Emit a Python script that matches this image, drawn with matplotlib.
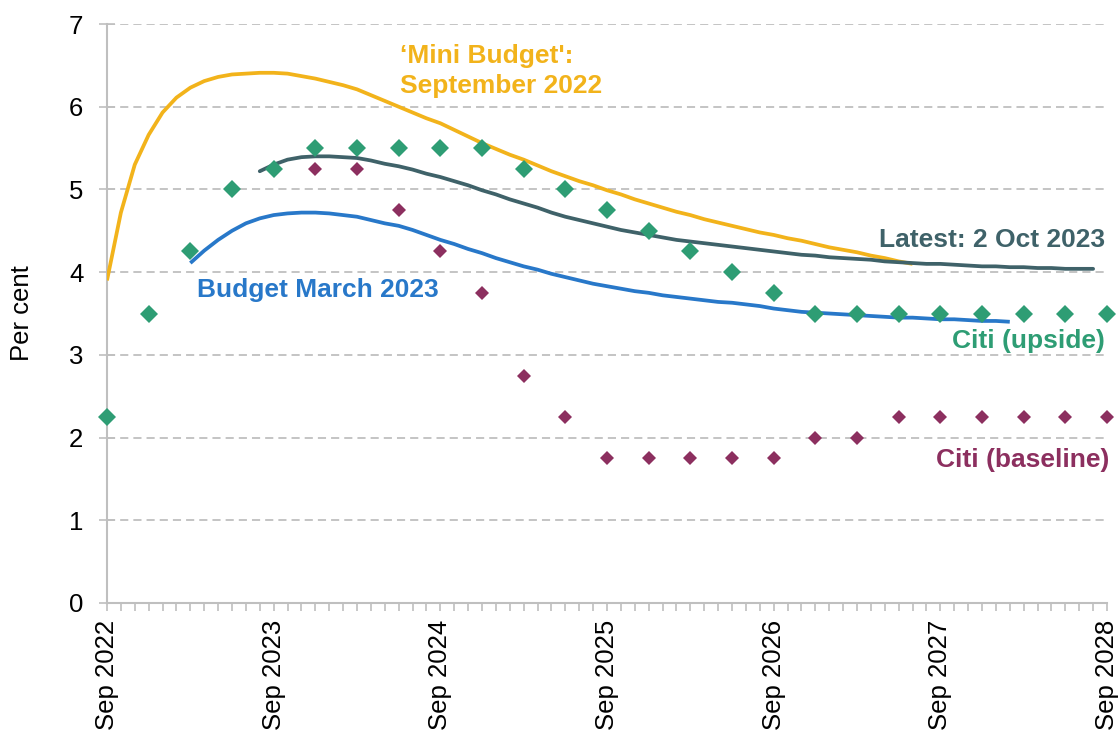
import matplotlib
matplotlib.use("Agg")
import matplotlib.pyplot as plt
from matplotlib.ticker import FixedLocator, MultipleLocator

plt.rcParams["font.family"] = ["Liberation Sans", "DejaVu Sans"]

# Month index 0 = Sep 2022, 72 = Sep 2028
tick_labels = ["Sep 2022", "Sep 2023", "Sep 2024", "Sep 2025",
               "Sep 2026", "Sep 2027", "Sep 2028"]

# 'Mini Budget': September 2022 market curve (monthly, from month 0)
mini_start = 0
mini_budget = [3.90, 4.72, 5.30, 5.66, 5.93, 6.11, 6.23, 6.31, 6.36, 6.39,
               6.40, 6.41, 6.41, 6.40, 6.37, 6.34, 6.30, 6.26, 6.21, 6.14,
               6.07, 6.00, 5.93, 5.86, 5.80, 5.72, 5.64, 5.56, 5.49, 5.42,
               5.36, 5.29, 5.22, 5.16, 5.10, 5.05, 4.99, 4.94, 4.88, 4.83,
               4.78, 4.73, 4.69, 4.64, 4.60, 4.56, 4.52, 4.48, 4.45, 4.41,
               4.38, 4.34, 4.30, 4.27, 4.24, 4.20, 4.17, 4.13, 4.10]

# Budget March 2023 market curve (monthly, from month 6)
budget_start = 6
budget_mar23 = [4.11, 4.26, 4.39, 4.50, 4.59, 4.65, 4.69, 4.71, 4.72, 4.72,
                4.71, 4.69, 4.67, 4.63, 4.59, 4.56, 4.51, 4.45, 4.39, 4.34,
                4.28, 4.23, 4.17, 4.12, 4.07, 4.03, 3.98, 3.94, 3.90, 3.86,
                3.83, 3.80, 3.77, 3.75, 3.72, 3.70, 3.68, 3.66, 3.64, 3.63,
                3.61, 3.59, 3.56, 3.54, 3.52, 3.51, 3.50, 3.49, 3.48, 3.47,
                3.46, 3.45, 3.45, 3.44, 3.43, 3.43, 3.42, 3.41, 3.41, 3.40]

# Latest: 2 Oct 2023 market curve (monthly, from month 11)
latest_start = 11
latest = [5.22, 5.30, 5.36, 5.39, 5.40, 5.40, 5.39, 5.38, 5.35, 5.31,
          5.28, 5.24, 5.19, 5.15, 5.10, 5.05, 4.99, 4.94, 4.88, 4.83,
          4.78, 4.72, 4.67, 4.63, 4.59, 4.55, 4.51, 4.48, 4.45, 4.42,
          4.39, 4.37, 4.35, 4.33, 4.31, 4.29, 4.27, 4.25, 4.23, 4.21,
          4.20, 4.18, 4.17, 4.16, 4.15, 4.13, 4.12, 4.11, 4.10, 4.10,
          4.09, 4.08, 4.07, 4.07, 4.06, 4.06, 4.05, 4.05, 4.04, 4.04,
          4.04]

# Citi forecasts (quarterly)
citi_up_start = 0
citi_upside = [2.25, 3.50, 4.25, 5.00, 5.25, 5.50, 5.50, 5.50, 5.50, 5.50,
               5.25, 5.00, 4.75, 4.50, 4.25, 4.00, 3.75, 3.50, 3.50, 3.50,
               3.50, 3.50, 3.50, 3.50, 3.50]
citi_base_start = 15
citi_baseline = [5.25, 5.25, 4.75, 4.25, 3.75, 2.75, 2.25, 1.75, 1.75, 1.75,
                 1.75, 1.75, 2.00, 2.00, 2.25, 2.25, 2.25, 2.25, 2.25, 2.25]

YELLOW = "#F2B31B"
BLUE = "#2878C9"
SLATE = "#3F6269"
GREEN = "#2E9D74"
PLUM = "#8C2F5F"
GREY = "#BFBFBF"


def months(start, n, step=1):
    return [start + step * i for i in range(n)]


fig = plt.figure(figsize=(11.2, 7.34), dpi=100)
ax = fig.add_axes([107 / 1120, 1 - 603 / 734, 1000 / 1120, 579 / 734])

ax.set_xlim(0, 72)
ax.set_ylim(0, 7)

for y in range(1, 8):
    ax.axhline(y, color=GREY, lw=1.3, ls=(0, (4.5, 2.8)), zorder=0)

ax.plot(months(mini_start, len(mini_budget)), mini_budget, color=YELLOW,
        lw=2.7, solid_capstyle="butt", zorder=3)
ax.plot(months(budget_start, len(budget_mar23)), budget_mar23, color=BLUE,
        lw=2.7, solid_capstyle="butt", zorder=3)
ax.plot(months(latest_start, len(latest)), latest, color=SLATE,
        lw=2.7, solid_capstyle="round", zorder=3)

ax.plot(months(citi_base_start, len(citi_baseline), 3), citi_baseline, "D",
        color=PLUM, ms=7, mew=0, zorder=4, clip_on=False)
ax.plot(months(citi_up_start, len(citi_upside), 3), citi_upside, "D",
        color=GREEN, ms=9.5, mew=0, zorder=5, clip_on=False)

# Axes styling
for side in ("top", "right"):
    ax.spines[side].set_visible(False)
for side in ("left", "bottom"):
    ax.spines[side].set_color(GREY)
    ax.spines[side].set_linewidth(1.5)

ax.xaxis.set_major_locator(FixedLocator(list(range(0, 73, 12))))
ax.xaxis.set_minor_locator(MultipleLocator(1))
ax.set_xticklabels(tick_labels, rotation=90, fontsize=18.5)
ax.tick_params(axis="x", which="both", length=6, width=1.2, color=GREY,
               direction="out", pad=6)
ax.yaxis.set_major_locator(MultipleLocator(1))
ax.tick_params(axis="y", length=12, width=1.2, color=GREY, labelsize=18.5,
               direction="inout", pad=11)
ax.set_ylabel("Per cent", fontsize=18.5, va="center", ha="center")
ax.yaxis.set_label_coords(-0.085, 0.5)

# Series labels
lab = dict(fontsize=19, fontweight="bold")
ax.text(21.1, 6.43, "\u2018Mini Budget':\nSeptember 2022", color=YELLOW,
        ha="left", va="center", linespacing=1.32, **lab)
ax.text(6.5, 3.78, "Budget March 2023", color=BLUE, ha="left", va="center", **lab)
ax.text(71.85, 4.39, "Latest: 2 Oct 2023", color=SLATE, ha="right", va="center", **lab)
ax.text(71.85, 3.17, "Citi (upside)", color=GREEN, ha="right", va="center", **lab)
ax.text(72.2, 1.73, "Citi (baseline)", color=PLUM, ha="right", va="center", **lab)

fig.savefig("out.png", dpi=100)
